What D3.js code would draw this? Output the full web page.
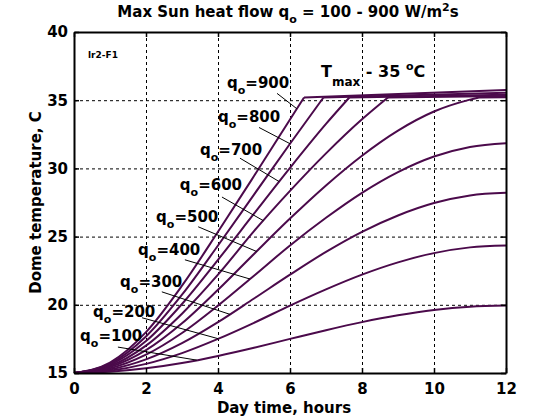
<!DOCTYPE html>
<html>
<head>
<meta charset="utf-8">
<script src="https://cdn.jsdelivr.net/npm/d3@7"></script>
<style>
  html, body { margin: 0; padding: 0; background: #ffffff; }
  svg text { font-family: "DejaVu Sans", Verdana, sans-serif; font-weight: bold; fill: #000; }
</style>
</head>
<body>
<svg id="chart" width="560" height="420"></svg>
<script>
// ---------------- data ----------------
const hours = [0, 1, 2, 3, 4, 5, 6, 7, 8, 9, 10, 11, 12];
const qLevels = [100, 200, 300, 400, 500, 600, 700, 800, 900];
const tempQ100 = [15, 15.09, 15.34, 15.73, 16.25, 16.85, 17.50, 18.14, 18.73, 19.23, 19.62, 19.86, 19.94];
const tempQ200 = [15, 15.17, 15.67, 16.46, 17.50, 18.68, 19.94, 21.13, 22.21, 23.11, 23.79, 24.21, 24.35];
const tempQ300 = [15, 15.26, 16.00, 17.19, 18.73, 20.46, 22.21, 23.88, 25.35, 26.55, 27.46, 28.02, 28.21];
const tempQ400 = [15, 15.34, 16.34, 17.93, 19.94, 22.13, 24.35, 26.38, 28.21, 29.73, 30.87, 31.57, 31.85];
const tempQ500 = [15, 15.43, 16.67, 18.64, 21.10, 23.73, 26.32, 28.75, 30.93, 32.77, 34.17, 35.04];
const tempQ600 = [15, 15.51, 17.01, 19.35, 22.21, 25.40, 28.35, 31.10, 33.60];
const tempQ700 = [15, 15.60, 17.34, 20.06, 23.30, 26.68, 30.04, 33.26];
const tempQ800 = [15, 15.68, 17.68, 20.74, 24.35, 28.08, 31.81];
const tempQ900 = [15, 15.77, 18.00, 21.40, 25.35, 29.44, 33.59];
const seriesTemps = [tempQ100, tempQ200, tempQ300, tempQ400, tempQ500, tempQ600, tempQ700, tempQ800, tempQ900];
// hour at which the temperature reaches the limit, and value at 12 h after the limit
const capHour = [null, null, null, null, 11.25, 8.72, 7.65, 6.93, 6.39];
const capTemp = 35.2;
const endTemp = [null, null, null, null, 35.22, 35.30, 35.40, 35.55, 35.75];
const xTicks = [0, 2, 4, 6, 8, 10, 12];
const yTicks = [15, 20, 25, 30, 35, 40];

// ---------------- layout ----------------
const W = 560, H = 420;
const margin = { left: 74, right: 54, top: 32, bottom: 47 };
const svg = d3.select("#chart");
const x = d3.scaleLinear().domain([0, 12]).range([margin.left, W - margin.right]);
const y = d3.scaleLinear().domain([15, 40]).range([H - margin.bottom, margin.top]);
const lineColor = "#4b0a4b";
const FONT = '"DejaVu Sans", Verdana, sans-serif';

// grid
const grid = svg.append("g").attr("stroke", "#000").attr("stroke-width", 1).attr("stroke-dasharray", "3,3");
xTicks.filter(t => t > 0 && t < 12).forEach(t => {
  grid.append("line").attr("x1", x(t) + 0.5).attr("x2", x(t) + 0.5).attr("y1", y(40)).attr("y2", y(15));
});
yTicks.filter(t => t > 15 && t < 40).forEach(t => {
  grid.append("line").attr("x1", x(0)).attr("x2", x(12)).attr("y1", y(t) + 0.5).attr("y2", y(t) + 0.5);
});

// curves
const curveGen = d3.line().x(d => x(d[0])).y(d => y(d[1])).curve(d3.curveMonotoneX);
const straight = d3.line().x(d => x(d[0])).y(d => y(d[1]));
const seriesPts = seriesTemps.map((temps, i) => {
  const pts = temps.map((v, j) => [hours[j], v]);
  if (capHour[i] !== null) pts.push([capHour[i], capTemp]);
  return pts;
});
const curves = svg.append("g").attr("fill", "none").attr("stroke", lineColor).attr("stroke-width", 2);
seriesPts.forEach((pts, i) => {
  curves.append("path").attr("d", curveGen(pts));
  if (capHour[i] !== null) {
    curves.append("path").attr("d", straight([[capHour[i], capTemp], [12, endTemp[i]]]));
  }
});

// axes box with inward ticks
function styleAxis(g, hideLabels) {
  g.select(".domain").attr("stroke", "#000").attr("stroke-width", 2);
  g.selectAll(".tick line").attr("stroke", "#000").attr("stroke-width", 1.5);
  g.selectAll(".tick text").style("font-size", "15px").style("font-weight", "bold").style("font-family", FONT);
  if (hideLabels) g.selectAll(".tick text").remove();
}
svg.append("g").attr("transform", `translate(0,${y(15)})`)
  .call(d3.axisBottom(x).tickValues(xTicks).tickFormat(d3.format("d")).tickSizeInner(-5).tickSizeOuter(0).tickPadding(10))
  .call(g => styleAxis(g, false));
svg.append("g").attr("transform", `translate(0,${y(40)})`)
  .call(d3.axisTop(x).tickValues(xTicks).tickSizeInner(-5).tickSizeOuter(0))
  .call(g => styleAxis(g, true));
svg.append("g").attr("transform", `translate(${x(0)},0)`)
  .call(d3.axisLeft(y).tickValues(yTicks).tickFormat(d3.format("d")).tickSizeInner(-5).tickSizeOuter(0).tickPadding(6))
  .call(g => styleAxis(g, false));
svg.append("g").attr("transform", `translate(${x(12)},0)`)
  .call(d3.axisRight(y).tickValues(yTicks).tickSizeInner(-5).tickSizeOuter(0))
  .call(g => styleAxis(g, true));

// title
const title = svg.append("text").attr("x", 288).attr("y", 17)
  .attr("text-anchor", "middle").style("font-size", "15px");
title.append("tspan").text("Max Sun heat flow q");
title.append("tspan").attr("dy", 6).style("font-size", "11px").text("o");
title.append("tspan").attr("dy", -6).text(" = 100 - 900 W/m");
title.append("tspan").attr("dy", -6).style("font-size", "11px").text("2");
title.append("tspan").attr("dy", 6).text("s");

// axis titles
svg.append("text").attr("x", 284).attr("y", 413).attr("text-anchor", "middle")
  .style("font-size", "15px").text("Day time, hours");
svg.append("text").attr("transform", `translate(41,${(y(15) + y(40)) / 2}) rotate(-90)`)
  .attr("text-anchor", "middle").style("font-size", "15px").text("Dome temperature, C");

// small tag
svg.append("text").attr("x", 88).attr("y", 58).style("font-size", "9px").text("lr2-F1");

// T max annotation
const tm = svg.append("text").attr("x", 321).attr("y", 77).style("font-size", "16px");
tm.append("tspan").text("T");
tm.append("tspan").attr("dy", 9).style("font-size", "12px").text("max");
tm.append("tspan").attr("dy", -9).text(" - 35 ");
tm.append("tspan").attr("dy", -7).style("font-size", "11px").text("o");
tm.append("tspan").attr("dy", 7).text("C");

// q labels with leader lines (label position in hours / degrees)
const labelPos = [
  { h: 0.17, t: 17.31, lh: 1.22, lt: 16.9, eh: 3.41 },
  { h: 0.53, t: 19.14, lh: 1.89, lt: 19.05, eh: 4.01 },
  { h: 1.28, t: 21.34, lh: 2.44, lt: 20.95, eh: 4.33 },
  { h: 1.78, t: 23.66, lh: 3.08, lt: 23.3, eh: 4.89 },
  { h: 2.28, t: 26.10, lh: 3.45, lt: 25.72, eh: 5.07 },
  { h: 2.94, t: 28.42, lh: 4.11, lt: 27.9, eh: 5.26 },
  { h: 3.50, t: 30.98, lh: 4.61, lt: 30.75, eh: 5.70 },
  { h: 4.00, t: 33.42, lh: 5.14, lt: 33.0, eh: 6.00 },
  { h: 4.25, t: 35.89, lh: 5.64, lt: 35.5, eh: 6.19 }
];
function tempAt(i, h) {
  const pts = seriesPts[i];
  for (let k = 0; k < pts.length - 1; k++) {
    if (h >= pts[k][0] && h <= pts[k + 1][0]) {
      const f = (h - pts[k][0]) / (pts[k + 1][0] - pts[k][0]);
      return pts[k][1] + f * (pts[k + 1][1] - pts[k][1]);
    }
  }
  return pts[pts.length - 1][1];
}
const labels = svg.append("g");
qLevels.forEach((q, i) => {
  const p = labelPos[i];
  labels.append("line").attr("x1", x(p.lh)).attr("y1", y(p.lt)).attr("x2", x(p.eh)).attr("y2", y(tempAt(i, p.eh)))
    .attr("stroke", "#000").attr("stroke-width", 1);
  const t = labels.append("text").attr("x", x(p.h)).attr("y", y(p.t)).style("font-size", "15px");
  t.append("tspan").text("q");
  t.append("tspan").attr("dy", 6).style("font-size", "11px").text("o");
  t.append("tspan").attr("dy", -6).text("=" + q);
});
</script>
</body>
</html>
